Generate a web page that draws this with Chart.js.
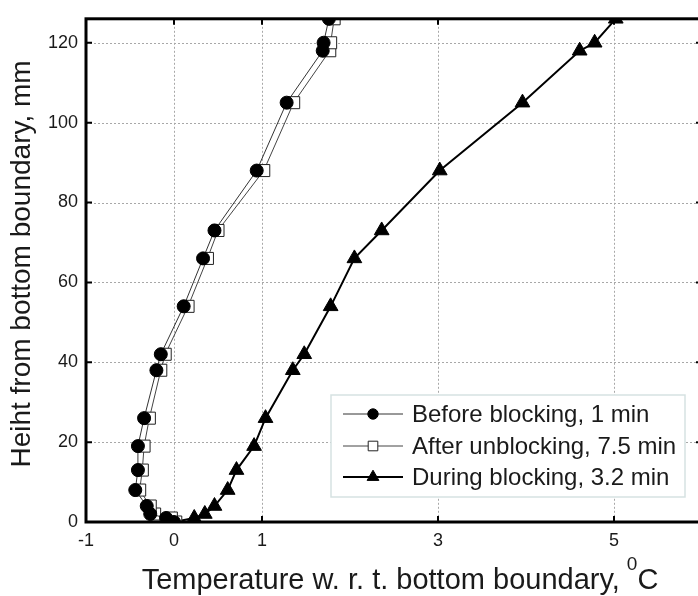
<!DOCTYPE html>
<html>
<head>
<meta charset="utf-8">
<script src="https://cdn.jsdelivr.net/npm/chart.js@4.4.0/dist/chart.umd.min.js"></script>
<style>
  html, body { margin: 0; padding: 0; background: #fff; overflow: hidden; }
  #wrap { position: relative; width: 720px; height: 596px; }
</style>
</head>
<body>
<div id="wrap"><canvas id="profileChart" width="720" height="596"></canvas></div>
<script>
// Heights above the bottom boundary, mm (shared by all three profiles)
const heights = [0, 1, 2, 4, 8, 13, 19, 26, 38, 42, 54, 66, 73, 88, 105, 118, 120, 126];

// Temperature relative to the bottom boundary, degC
const beforeBlocking = [0, -0.09, -0.27, -0.31, -0.44, -0.41, -0.41, -0.34, -0.20, -0.15, 0.11, 0.33, 0.46, 0.94, 1.28, 1.69, 1.70, 1.76];
const afterUnblocking = [0.02, -0.03, -0.22, -0.27, -0.39, -0.36, -0.34, -0.28, -0.15, -0.10, 0.16, 0.38, 0.50, 1.02, 1.36, 1.77, 1.78, 1.82];
const duringBlocking = [0, 0.23, 0.35, 0.46, 0.61, 0.71, 0.91, 1.04, 1.35, 1.48, 1.78, 2.05, 2.36, 3.02, 3.96, 4.61, 4.78, 5.02];

const seriesLabels = ["Before blocking, 1 min", "After unblocking, 7.5 min", "During blocking, 3.2 min"];

const xTicks = [-1, 0, 1, 3, 5, 6];
const yTicks = [0, 20, 40, 60, 80, 100, 120];

const FONT = "'Liberation Sans', Arial, sans-serif";
const TEXT = "#1a1a1a";

function toPoints(xs) {
  return xs.map((x, i) => ({ x: x, y: heights[i] }));
}

// Dotted grid, heavy frame and inward tick marks
const framePlugin = {
  id: "frame",
  beforeDatasetsDraw(chart) {
    const { ctx, chartArea: a, scales } = chart;
    ctx.save();
    ctx.strokeStyle = "#a8a8a8";
    ctx.lineWidth = 1;
    ctx.setLineDash([2, 2]);
    xTicks.forEach((v) => {
      const px = Math.round(scales.x.getPixelForValue(v)) + 0.5;
      ctx.beginPath();
      ctx.moveTo(px, a.top);
      ctx.lineTo(px, a.bottom);
      ctx.stroke();
    });
    yTicks.forEach((v) => {
      const py = Math.round(scales.y.getPixelForValue(v)) + 0.5;
      ctx.beginPath();
      ctx.moveTo(a.left, py);
      ctx.lineTo(a.right, py);
      ctx.stroke();
    });
    ctx.restore();
  },
  afterDatasetsDraw(chart) {
    const { ctx, chartArea: a, scales } = chart;
    ctx.save();
    ctx.strokeStyle = "#000";
    ctx.lineWidth = 3;
    ctx.strokeRect(a.left, a.top, a.right - a.left, a.bottom - a.top);
    ctx.lineWidth = 2;
    xTicks.forEach((v) => {
      const px = scales.x.getPixelForValue(v);
      ctx.beginPath();
      ctx.moveTo(px, a.bottom);
      ctx.lineTo(px, a.bottom - 6);
      ctx.moveTo(px, a.top);
      ctx.lineTo(px, a.top + 6);
      ctx.stroke();
    });
    yTicks.forEach((v) => {
      const py = scales.y.getPixelForValue(v);
      ctx.beginPath();
      ctx.moveTo(a.left, py);
      ctx.lineTo(a.left + 6, py);
      ctx.moveTo(a.right, py);
      ctx.lineTo(a.right - 6, py);
      ctx.stroke();
    });
    ctx.restore();
  },
  afterDraw(chart) {
    const { ctx } = chart;
    ctx.save();
    ctx.fillStyle = TEXT;

    // x axis title with superscript degree mark
    const main = "Temperature w. r. t. bottom boundary,";
    ctx.font = "29px " + FONT;
    const wMain = ctx.measureText(main).width + 7;
    const wC = ctx.measureText("C").width;
    ctx.font = "19px " + FONT;
    const wSup = ctx.measureText("0").width;
    const x0 = 400 - (wMain + wSup + wC) / 2;
    const base = 589;
    ctx.textBaseline = "alphabetic";
    ctx.textAlign = "left";
    ctx.font = "29px " + FONT;
    ctx.fillText(main, x0, base);
    ctx.font = "19px " + FONT;
    ctx.fillText("0", x0 + wMain, base - 19);
    ctx.font = "29px " + FONT;
    ctx.fillText("C", x0 + wMain + wSup, base);

    // y axis title
    ctx.font = "28px " + FONT;
    ctx.translate(22, 264);
    ctx.rotate(-Math.PI / 2);
    ctx.textAlign = "center";
    ctx.textBaseline = "middle";
    ctx.fillText("Heiht from bottom boundary, mm", 0, 0);
    ctx.restore();

    // legend box
    ctx.save();
    const box = { left: 331, top: 395, right: 685, bottom: 497 };
    ctx.fillStyle = "#fff";
    ctx.fillRect(box.left, box.top, box.right - box.left, box.bottom - box.top);
    ctx.strokeStyle = "#d6e2e2";
    ctx.lineWidth = 1.5;
    ctx.strokeRect(box.left, box.top, box.right - box.left, box.bottom - box.top);
    const rows = [414, 446, 477];
    chart.data.datasets.forEach((ds, i) => {
      const y = rows[i];
      ctx.strokeStyle = ds.borderColor;
      ctx.lineWidth = ds.borderWidth;
      ctx.beginPath();
      ctx.moveTo(343, y);
      ctx.lineTo(403, y);
      ctx.stroke();
      ctx.fillStyle = ds.pointBackgroundColor;
      ctx.strokeStyle = ds.pointBorderColor;
      ctx.lineWidth = 1;
      Chart.helpers.drawPoint(ctx, {
        pointStyle: ds.pointStyle,
        radius: ds.pointRadius * 0.8,
        rotation: 0,
        borderWidth: 1,
      }, 373, y);
      ctx.fillStyle = TEXT;
      ctx.font = "24px " + FONT;
      ctx.textAlign = "left";
      ctx.textBaseline = "middle";
      ctx.fillText(seriesLabels[i], 412, y + 1);
    });
    ctx.restore();
  },
};

const profileChart = new Chart(document.getElementById("profileChart").getContext("2d"), {
  type: "line",
  data: {
    datasets: [
      {
        label: seriesLabels[0],
        data: toPoints(beforeBlocking),
        borderColor: "#333",
        borderWidth: 1,
        pointStyle: "circle",
        pointRadius: 6.5,
        pointBackgroundColor: "#000",
        pointBorderColor: "#000",
        pointBorderWidth: 1,
      },
      {
        label: seriesLabels[1],
        data: toPoints(afterUnblocking),
        borderColor: "#444",
        borderWidth: 1,
        pointStyle: "rect",
        pointRadius: 8.5,
        pointBackgroundColor: "#fff",
        pointBorderColor: "#222",
        pointBorderWidth: 1,
      },
      {
        label: seriesLabels[2],
        data: toPoints(duringBlocking),
        borderColor: "#000",
        borderWidth: 2,
        pointStyle: "triangle",
        pointRadius: 8.5,
        pointBackgroundColor: "#000",
        pointBorderColor: "#000",
        pointBorderWidth: 1,
      },
    ],
  },
  options: {
    responsive: false,
    animation: false,
    devicePixelRatio: 1,
    layout: { padding: { top: 13, right: 18, left: 0, bottom: 0 } },
    elements: { line: { tension: 0 } },
    plugins: {
      legend: { display: false },
      tooltip: { enabled: false },
    },
    scales: {
      x: {
        type: "linear",
        min: -1,
        max: 6,
        afterBuildTicks: (scale) => {
          scale.ticks = xTicks.map((v) => ({ value: v }));
        },
        afterFit: (scale) => {
          scale.height = 74;
        },
        grid: { display: false, drawTicks: false },
        border: { display: false },
        ticks: {
          padding: 8,
          color: TEXT,
          font: { family: FONT, size: 18 },
          callback: (v) => (v === 6 ? "" : v),
        },
      },
      y: {
        type: "linear",
        min: 0,
        max: 126,
        afterBuildTicks: (scale) => {
          scale.ticks = yTicks.map((v) => ({ value: v }));
        },
        afterFit: (scale) => {
          scale.width = 86;
        },
        grid: { display: false, drawTicks: false },
        border: { display: false },
        ticks: {
          padding: 8,
          color: TEXT,
          font: { family: FONT, size: 18 },
        },
      },
    },
  },
  plugins: [framePlugin],
});
</script>
</body>
</html>
